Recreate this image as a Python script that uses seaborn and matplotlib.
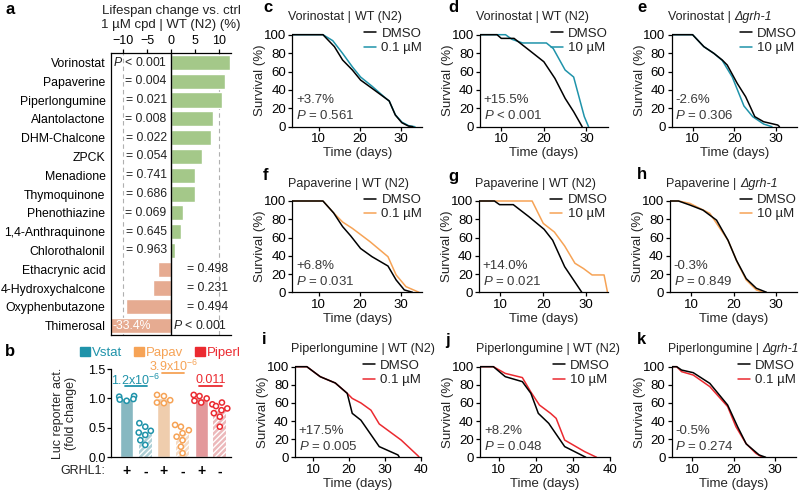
import matplotlib
matplotlib.use('Agg')
import matplotlib.pyplot as plt
from matplotlib.patches import Patch
import pandas as pd
import seaborn as sns

# ---------------- data ----------------
# panel a: lifespan change at 1 uM
compounds = ['Vorinostat', 'Papaverine', 'Piperlongumine', 'Alantolactone', 'DHM-Chalcone',
             'ZPCK', 'Menadione', 'Thymoquinone', 'Phenothiazine', '1,4-Anthraquinone',
             'Chlorothalonil', 'Ethacrynic acid', '4-Hydroxychalcone', 'Oxyphenbutazone',
             'Thimerosal']
change = [12.3, 11.3, 10.6, 8.7, 8.4, 6.4, 5.1, 4.9, 2.6, 2.1, 0.9, -2.8, -3.75, -9.4, -33.4]
pvals = ['< 0.001', '= 0.004', '= 0.021', '= 0.008', '= 0.022', '= 0.054', '= 0.741',
         '= 0.686', '= 0.069', '= 0.645', '= 0.963', '= 0.498', '= 0.231', '= 0.494',
         '< 0.001']

# panel b: luciferase reporter
groups = ['Vstat+', 'Vstat-', 'Papav+', 'Papav-', 'Piperl+', 'Piperl-']
grhl1 = ['+', '-', '+', '-', '+', '-']
bar_means = [1.0, 0.43, 1.0, 0.39, 1.0, 0.81]
pts_vstat_pos = [1.04, 1.03, 0.99, 0.96, 0.98]
pts_vstat_neg = [0.58, 0.52, 0.45, 0.42, 0.38, 0.29, 0.21]
pts_papav_pos = [1.06, 1.04, 0.97, 0.93, 0.92]
pts_papav_neg = [0.55, 0.52, 0.46, 0.41, 0.35, 0.29, 0.18, 0.07]
pts_piperl_pos = [1.06, 1.04, 1.0, 0.96, 0.93]
pts_piperl_neg = [0.93, 0.9, 0.87, 0.83, 0.8, 0.75, 0.69, 0.52]
sig_labels = [r'1.2x10$^{-6}$', r'3.9x10$^{-6}$', '0.011']

# survival curves (days, % alive)
c_dmso_t = [0, 11, 13.8, 15.8, 18.2, 20.2, 23, 26.6, 27.2, 28.7, 30.3, 31.9, 33]
c_dmso_s = [100, 100, 87, 72.5, 61.6, 50.7, 41.7, 30, 28, 12.7, 4.3, 0.7, 0]
c_trt_t = [0, 11, 13.4, 15.8, 18.2, 20.2, 23, 26.6, 27.2, 28.7, 30.3, 32, 33.5]
c_trt_s = [100, 100, 93.5, 79.7, 65, 54, 44, 30, 28, 13, 5, 1, 0]

d_dmso_t = [0, 9, 10, 13, 16.6, 20, 22.6, 25, 27, 29]
d_dmso_s = [100, 100, 96, 96, 83, 70.6, 52.5, 30.8, 16.3, 0]
d_trt_t = [0, 11, 12.5, 15, 20.6, 22.2, 25, 27, 29.5, 30.5]
d_trt_s = [100, 100, 95, 91, 91, 85, 61.6, 54, 11, 0]

e_dmso_t = [0, 10, 12.7, 15.1, 17.1, 18.3, 20.7, 22.7, 24.9, 27, 30.4, 30.8]
e_dmso_s = [100, 100, 87, 79.7, 72.5, 67, 47, 32.6, 10.9, 5.4, 1.8, 0]
e_trt_t = [0, 10, 12.7, 15.1, 17.1, 19.5, 22.3, 24.4, 27, 29]
e_trt_s = [100, 100, 87, 79.7, 72, 54, 22.5, 10.9, 2.9, 0]

f_dmso_t = [0, 11, 13.6, 15.8, 17.8, 20.2, 23, 26.9, 28.9, 30.9, 32.9]
f_dmso_s = [100, 100, 87, 72, 61.7, 48, 39, 28.8, 13.5, 2.6, 0]
f_trt_t = [0, 11, 13.6, 15.8, 18.2, 22.5, 26.9, 28.9, 31.3, 34.5]
f_trt_s = [100, 100, 87, 77, 70, 55.5, 39, 19, 6.2, 0]

g_dmso_t = [0, 8.6, 9.8, 13, 16.6, 20.2, 22.2, 25, 29]
g_dmso_s = [100, 100, 96, 96, 83, 69, 57, 28, 0]
g_trt_t = [0, 17.4, 20, 22.6, 25, 27.4, 29.4, 31.4, 34.2, 35]
g_trt_s = [100, 100, 75.5, 66, 50.7, 31.8, 26, 19, 19, 0]

h_dmso_t = [0, 7, 9.7, 12.8, 16, 18.7, 20.7, 23, 25.4, 27.8]
h_dmso_s = [100, 100, 95.6, 90, 79, 57, 35, 15, 4.4, 0]
h_trt_t = [0, 7, 9.7, 14.4, 16, 18.7, 21, 23, 25.4, 27]
h_trt_s = [100, 100, 97.4, 86.5, 75.5, 57, 31.8, 13.5, 2.6, 0]

i_dmso_t = [0, 8.3, 12, 16.2, 19.5, 20.9, 23.3, 28.4, 33.6, 34]
i_dmso_s = [100, 100, 89, 82, 70.6, 48.5, 41, 11.8, 2.6, 0]
i_trt_t = [0, 8.3, 12, 16.2, 19.5, 20.9, 23.3, 26.1, 28.4, 34.5, 39.2, 39.5]
i_trt_s = [100, 100, 89, 82, 70.6, 65, 60, 52, 36.8, 19, 1.5, 0]

j_dmso_t = [0, 8.6, 11.8, 16.4, 18.7, 20.7, 23.5, 27.8, 33.5]
j_dmso_s = [100, 100, 89, 83.5, 70.6, 48.5, 37.5, 11.8, 0]
j_trt_t = [0, 8.6, 11.8, 16.4, 18.7, 21, 24, 25.5, 27.8, 33.2, 36.4]
j_trt_s = [100, 100, 92.6, 88, 72, 57.7, 48.5, 43, 19, 6.2, 0]

k_dmso_t = [0, 6.2, 7.4, 10.2, 14.2, 18.5, 20.9, 23, 26.1, 27.7]
k_dmso_s = [100, 100, 96.3, 93.4, 81.6, 57.7, 33.8, 14.7, 2.6, 0]
k_trt_t = [0, 6.2, 7.4, 10.2, 14.2, 18.5, 20.5, 22.9, 25.3, 26.9]
k_trt_s = [100, 100, 94.5, 90.8, 78, 56, 33.8, 15.4, 4.4, 0]

# ---------------- style ----------------
sns.set_style('ticks')
plt.rcParams['font.family'] = ['Liberation Sans', 'DejaVu Sans']
plt.rcParams['mathtext.fontset'] = 'custom'
plt.rcParams['mathtext.rm'] = 'Liberation Sans'
plt.rcParams['mathtext.it'] = 'Liberation Sans:italic'
plt.rcParams['axes.linewidth'] = 0.9
plt.rcParams['xtick.major.width'] = 0.9
plt.rcParams['ytick.major.width'] = 0.9
plt.rcParams['axes.edgecolor'] = 'black'
plt.rcParams['xtick.color'] = 'black'
plt.rcParams['ytick.color'] = 'black'
plt.rcParams['text.color'] = '#222222'
plt.rcParams['hatch.linewidth'] = 1.0

GREEN = '#a2d27f'
SALMON = '#f4a583'
TEAL = '#1f93aa'
ORANGE = '#f6a356'
RED = '#eb2a30'
GRAY_TXT = '#3a3a3a'
FS = 9

W, H = 799, 493
fig = plt.figure(figsize=(W / 100, H / 100), dpi=100)
renderer = fig.canvas.get_renderer()


def px_axes(l, t, r, b):
    return fig.add_axes([l / W, 1 - b / H, (r - l) / W, (b - t) / H])


def fig_text(x, y, s, **kw):
    return fig.text(x / W, 1 - y / H, s, **kw)


# ---------------- panel a ----------------
ax = px_axes(111, 53, 231, 335)
df_a = pd.DataFrame({'cpd': compounds, 'change': change,
                     'sign': ['up' if v > 0 else 'down' for v in change]})
sns.barplot(data=df_a, x='change', y='cpd', hue='sign', order=compounds,
            palette={'up': GREEN, 'down': SALMON}, dodge=False, legend=False,
            width=0.8, orient='h', ax=ax, zorder=2)
ax.set_xlim(-12.5, 12.5)
ax.axvline(0, color='black', lw=1.0, zorder=3)
for xv in (-10, 10):
    ax.axvline(xv, color='#b0b0b0', lw=0.8, ls=(0, (4, 3)), zorder=1)
ax.xaxis.tick_top()
ax.set_xticks([-10, -5, 0, 5, 10])
ax.tick_params(axis='x', labelsize=FS, length=3, pad=1)
ax.tick_params(axis='y', length=0, labelsize=8.8, pad=4)
ax.set_xlabel('')
ax.set_ylabel('')
ax.spines['right'].set_visible(False)
for i, (v, p) in enumerate(zip(change, pvals)):
    lab = (r'$P$ ' + p) if p.startswith('<') else p
    if v > 0:
        ax.text(-0.9, i, lab, ha='right', va='center', fontsize=8.8, zorder=4)
    else:
        ax.text(11.8, i, lab, ha='right', va='center', fontsize=8.8, zorder=4)
ax.text(-12.2, len(compounds) - 1, '%.1f%%' % change[-1], color='white',
        ha='left', va='center', fontsize=8.8, zorder=4)
fig_text(171, 18, 'Lifespan change vs. ctrl\n1 \u00b5M cpd | WT (N2) (%)',
         ha='center', va='center', fontsize=FS + 0.5, linespacing=1.25)

# ---------------- panel b ----------------
ax = px_axes(111, 369, 231, 457.3)
bar_colors = ['#7ebfca', '#a9d4dc', '#facca2', '#fcdcbf', '#f08b90', '#f5b0b3']
sns.barplot(x=groups, y=bar_means, hue=groups, palette=bar_colors, legend=False,
            width=0.7, ax=ax, zorder=1)
for k, patch in enumerate(ax.patches):
    if grhl1[k] == '-':
        patch.set_hatch('//////')
        patch.set_edgecolor('white')
        patch.set_linewidth(0)
pts = [pts_vstat_pos, pts_vstat_neg, pts_papav_pos, pts_papav_neg, pts_piperl_pos, pts_piperl_neg]
dot_col = [TEAL, TEAL, ORANGE, ORANGE, RED, RED]
df_b = pd.DataFrame({'group': [g for g, p in zip(groups, pts) for _ in p],
                     'value': [v for p in pts for v in p]})
sns.swarmplot(data=df_b, x='group', y='value', hue='group', order=groups,
              palette=dict(zip(groups, dot_col)), size=3.7, linewidth=1.1,
              legend=False, ax=ax, zorder=3)
for coll in ax.collections:
    fc = coll.get_facecolors()
    coll.set_edgecolors(fc)
    coll.set_facecolors('white')
ax.set_ylim(0, 1.5)
ax.set_xlim(-0.84, 5.6)
ax.set_yticks([0, 0.5, 1.0, 1.5])
ax.set_yticklabels(['0.0', '0.5', '1.0', '1.5'])
ax.set_xticks(range(6))
ax.set_xticklabels(grhl1, fontsize=FS + 1, fontweight='bold')
ax.tick_params(axis='x', length=0, pad=5)
ax.tick_params(axis='y', labelsize=FS, length=3, pad=1)
ax.set_xlabel('')
ax.set_ylabel('Luc reporter act.\n(fold change)', fontsize=FS, linespacing=1.1)
ax.yaxis.set_label_coords((77 - 111) / 120, 0.5)
sns.despine(ax=ax)
sig_y = [(1.21, 1.31), (1.43, 1.55), (1.21, 1.31)]
for n, (lab, (ly, ty), col) in enumerate(zip(sig_labels, sig_y, [TEAL, ORANGE, RED])):
    ax.plot([2 * n - 0.1, 2 * n + 1.1], [ly, ly], color=col, lw=1.3, clip_on=False)
    ax.text(2 * n + 0.5, ty, lab, color=col, ha='center', va='center', fontsize=FS)
fig_text(105, 471, 'GRHL1:', ha='right', va='center', fontsize=FS)
leg = ax.legend(handles=[Patch(color=c) for c in (TEAL, ORANGE, RED)],
                labels=['Vstat', 'Papav', 'Piperl'], labelcolor=[TEAL, ORANGE, RED],
                ncol=3, loc='center', bbox_to_anchor=(160 / W, 1 - 353 / H),
                bbox_transform=fig.transFigure, frameon=False, fontsize=FS + 0.5,
                handlelength=0.75, handleheight=0.75, handletextpad=0.15,
                columnspacing=0.9, borderpad=0)

# ---------------- survival panels ----------------
panels = [
    # letter, compound, strain, trt label, colour, xlim, xticks, (left, right), (y100, y0), data, change, p
    ('c', 'Vorinostat', 'WT (N2)', '0.1 \u00b5M', TEAL, (3.5, 35.3), [10, 20, 30],
     (292.3, 422.3), (34.7, 126.7), (c_dmso_t, c_dmso_s, c_trt_t, c_trt_s), '+3.7%', '= 0.561'),
    ('d', 'Vorinostat', 'WT (N2)', '10 \u00b5M', TEAL, (5, 35), [10, 20, 30],
     (480, 607.7), (34.7, 126.7), (d_dmso_t, d_dmso_s, d_trt_t, d_trt_s), '+15.5%', '< 0.001'),
    ('e', 'Vorinostat', '\u0394grh-1', '10 \u00b5M', TEAL, (5, 35), [10, 20, 30],
     (671.7, 797), (34.7, 126.7), (e_dmso_t, e_dmso_s, e_trt_t, e_trt_s), '-2.6%', '= 0.306'),
    ('f', 'Papaverine', 'WT (N2)', '0.1 \u00b5M', ORANGE, (3.5, 35.3), [10, 20, 30],
     (292.3, 422.3), (201, 292.3), (f_dmso_t, f_dmso_s, f_trt_t, f_trt_s), '+6.8%', '= 0.031'),
    ('g', 'Papaverine', 'WT (N2)', '10 \u00b5M', ORANGE, (5, 35), [10, 20, 30],
     (479, 607.5), (201, 292.3), (g_dmso_t, g_dmso_s, g_trt_t, g_trt_s), '+14.0%', '= 0.021'),
    ('h', 'Papaverine', '\u0394grh-1', '10 \u00b5M', ORANGE, (5, 35), [10, 20, 30],
     (670, 797), (201, 292.3), (h_dmso_t, h_dmso_s, h_trt_t, h_trt_s), '-0.3%', '= 0.849'),
    ('i', 'Piperlongumine', 'WT (N2)', '0.1 \u00b5M', RED, (5, 40), [10, 20, 30, 40],
     (295, 421), (366.7, 457.3), (i_dmso_t, i_dmso_s, i_trt_t, i_trt_s), '+17.5%', '= 0.005'),
    ('j', 'Piperlongumine', 'WT (N2)', '10 \u00b5M', RED, (5, 40), [10, 20, 30, 40],
     (480, 610), (366.7, 457.3), (j_dmso_t, j_dmso_s, j_trt_t, j_trt_s), '+8.2%', '= 0.048'),
    ('k', 'Piperlongumine', '\u0394grh-1', '0.1 \u00b5M', RED, (5, 35), [10, 20, 30],
     (671.7, 796), (366.7, 457.3), (k_dmso_t, k_dmso_s, k_trt_t, k_trt_s), '-0.5%', '= 0.274'),
]

for letter, cpd, strain, trt, col, xlim, xt, (lft, rgt), (y100, y0), dat, chg, p in panels:
    ppu = (y0 - y100) / 100.0
    ax = px_axes(lft, y100 - 3 * ppu, rgt, y0 + 2 * ppu)
    sns.lineplot(x=dat[2], y=dat[3], color=col, lw=1.1, sort=False, estimator=None,
                 ax=ax, label=trt)
    sns.lineplot(x=dat[0], y=dat[1], color='black', lw=1.1, sort=False, estimator=None,
                 ax=ax, label='DMSO')
    ax.set_xlim(*xlim)
    ax.set_ylim(-2, 103)
    ax.spines['left'].set_bounds(0, 100)
    ax.spines['bottom'].set_position(('data', 0))
    sns.despine(ax=ax)
    ax.set_yticks([0, 20, 40, 60, 80, 100])
    ax.set_xticks(xt)
    ax.tick_params(axis='both', labelsize=FS + 0.5, length=3, pad=1.5)
    ax.set_xlabel('Time (days)', fontsize=FS + 0.5)
    ax.xaxis.set_label_coords(((lft + rgt) / 2) / W, 1 - (y0 + 20.5) / H,
                              transform=fig.transFigure)
    ax.set_ylabel('Survival (%)', fontsize=FS + 0.5)
    ax.yaxis.set_label_coords((lft - 26) / W, 1 - ((y100 + y0) / 2) / H,
                              transform=fig.transFigure)
    h, l = ax.get_legend_handles_labels()
    ax.legend(h[::-1], l[::-1], loc='upper right', frameon=False, fontsize=FS + 0.5,
              bbox_to_anchor=(rgt / W, 1 - (y100 - 7) / H), bbox_transform=fig.transFigure,
              borderpad=0, borderaxespad=0, handlelength=0.9, handletextpad=0.4,
              labelspacing=0.15)
    ax.text(0.03, 29, chg, transform=ax.get_yaxis_transform(), ha='left', va='center',
            fontsize=FS + 0.5, color=GRAY_TXT)
    ax.text(0.03, 12, r'$P$ ' + p, transform=ax.get_yaxis_transform(), ha='left',
            va='center', fontsize=FS + 0.5, color=GRAY_TXT)
    # title: compound | strain (mutant name in italics)
    tfs = 8.7 if cpd == 'Piperlongumine' and not strain.startswith('WT') else FS
    t1 = fig_text(lft - 4, y100 - 17.5, cpd + ' | ', ha='left', va='center', fontsize=tfs)
    x_end = t1.get_window_extent(renderer).x1
    fig.text(x_end / W, 1 - (y100 - 17.5) / H, strain, ha='left', va='center', fontsize=tfs,
             style='normal' if strain.startswith('WT') else 'italic')

# panel letters
for lt, (x, y) in {'a': (5, 10), 'b': (5, 351), 'c': (263, 8), 'd': (448, 8), 'e': (637, 8),
                   'f': (263, 176), 'g': (448, 176), 'h': (637, 174), 'i': (262, 340),
                   'j': (445, 340), 'k': (637, 339)}.items():
    fig_text(x, y, lt, ha='left', va='center', fontsize=12, fontweight='bold', color='black')

fig.savefig('out.png', dpi=100)
